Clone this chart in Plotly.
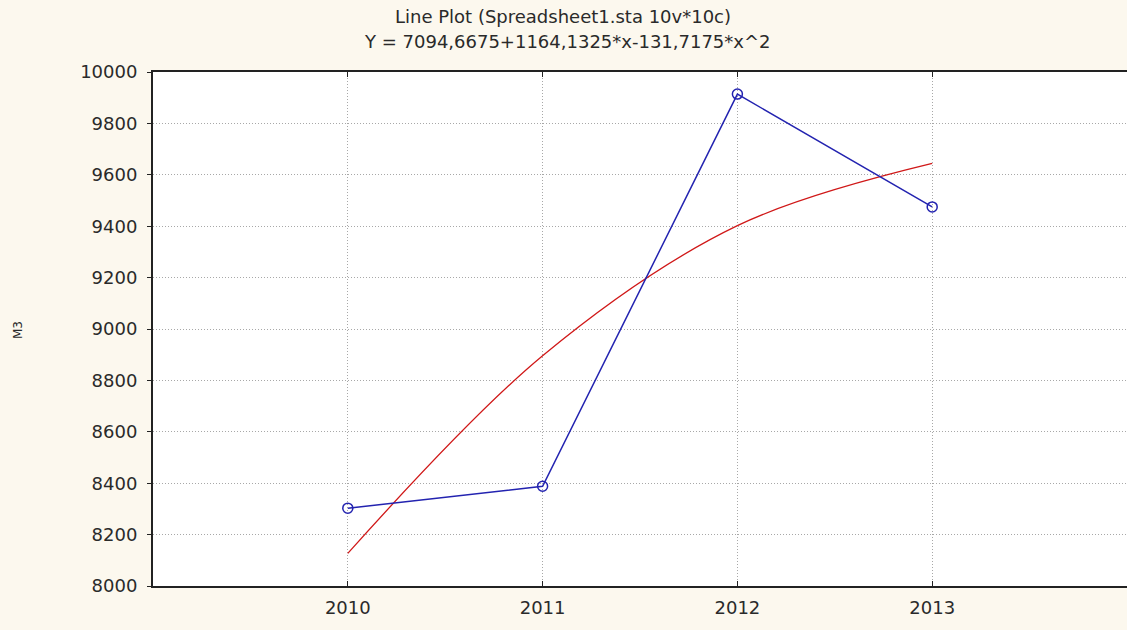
import plotly.graph_objects as go

years = [2010, 2011, 2012, 2013]
observed = [8303, 8388, 9914, 9475]
fitted = [8127, 8896, 9402, 9644]
y_ticks = [8000, 8200, 8400, 8600, 8800, 9000, 9200, 9400, 9600, 9800, 10000]

title1 = "Line Plot (Spreadsheet1.sta 10v*10c)"
title2 = "Y = 7094,6675+1164,1325*x-131,7175*x^2"

FONT = "DejaVu Sans"
TXT = "#2a2a2a"

fig = go.Figure()
fig.add_trace(go.Scatter(
    x=years, y=fitted, mode="lines", line=dict(color="#d01818", width=1.3, shape="spline"),
    showlegend=False, hoverinfo="skip"))
fig.add_trace(go.Scatter(
    x=years, y=observed, mode="lines+markers",
    line=dict(color="#2323b0", width=1.5),
    marker=dict(symbol="circle-open", size=10, color="#2323b0", line=dict(width=1.5)),
    showlegend=False))

fig.update_layout(
    width=1127, height=630,
    margin=dict(l=153, r=0, t=72, b=44),
    paper_bgcolor="#fcf8ee", plot_bgcolor="#ffffff",
    font=dict(family=FONT, size=18, color=TXT),
    annotations=[
        dict(text=title1, xref="paper", yref="paper", x=0.421, y=1 + 55/514,
             showarrow=False, xanchor="center", yanchor="middle",
             font=dict(family=FONT, size=18, color=TXT)),
        dict(text=title2, xref="paper", yref="paper", x=0.426, y=1 + 31/514,
             showarrow=False, xanchor="center", yanchor="middle",
             font=dict(family=FONT, size=18, color=TXT)),
        dict(text="M3", xref="paper", yref="paper", x=-135/974, y=(586-330)/514,
             showarrow=False, textangle=-90, xanchor="center", yanchor="middle",
             font=dict(family=FONT, size=12, color=TXT)),
    ],
)
fig.update_xaxes(
    range=[2009, 2014], tickmode="array", tickvals=years, ticktext=[str(y) for y in years],
    showgrid=True, gridcolor="#a8a8a8", griddash="1px,2px", gridwidth=1,
    showline=True, linecolor="#222222", linewidth=2, mirror="ticks",
    ticks="inside", ticklen=5, tickcolor="#222222", zeroline=False,
    ticklabelstandoff=4,
    tickfont=dict(family=FONT, size=18, color=TXT))
fig.update_yaxes(
    range=[8000, 10000], tickmode="array", tickvals=y_ticks, ticktext=[str(v) for v in y_ticks],
    showgrid=True, gridcolor="#a8a8a8", griddash="1px,2px", gridwidth=1,
    showline=True, linecolor="#222222", linewidth=2,
    ticks="outside", ticklen=4, tickcolor="#222222", zeroline=False,
    ticklabelstandoff=6,
    tickfont=dict(family=FONT, size=18, color=TXT))

fig.write_html("out.html", config={"displayModeBar": False},
               post_script="document.body.style.margin='0';document.body.style.overflow='hidden';")
